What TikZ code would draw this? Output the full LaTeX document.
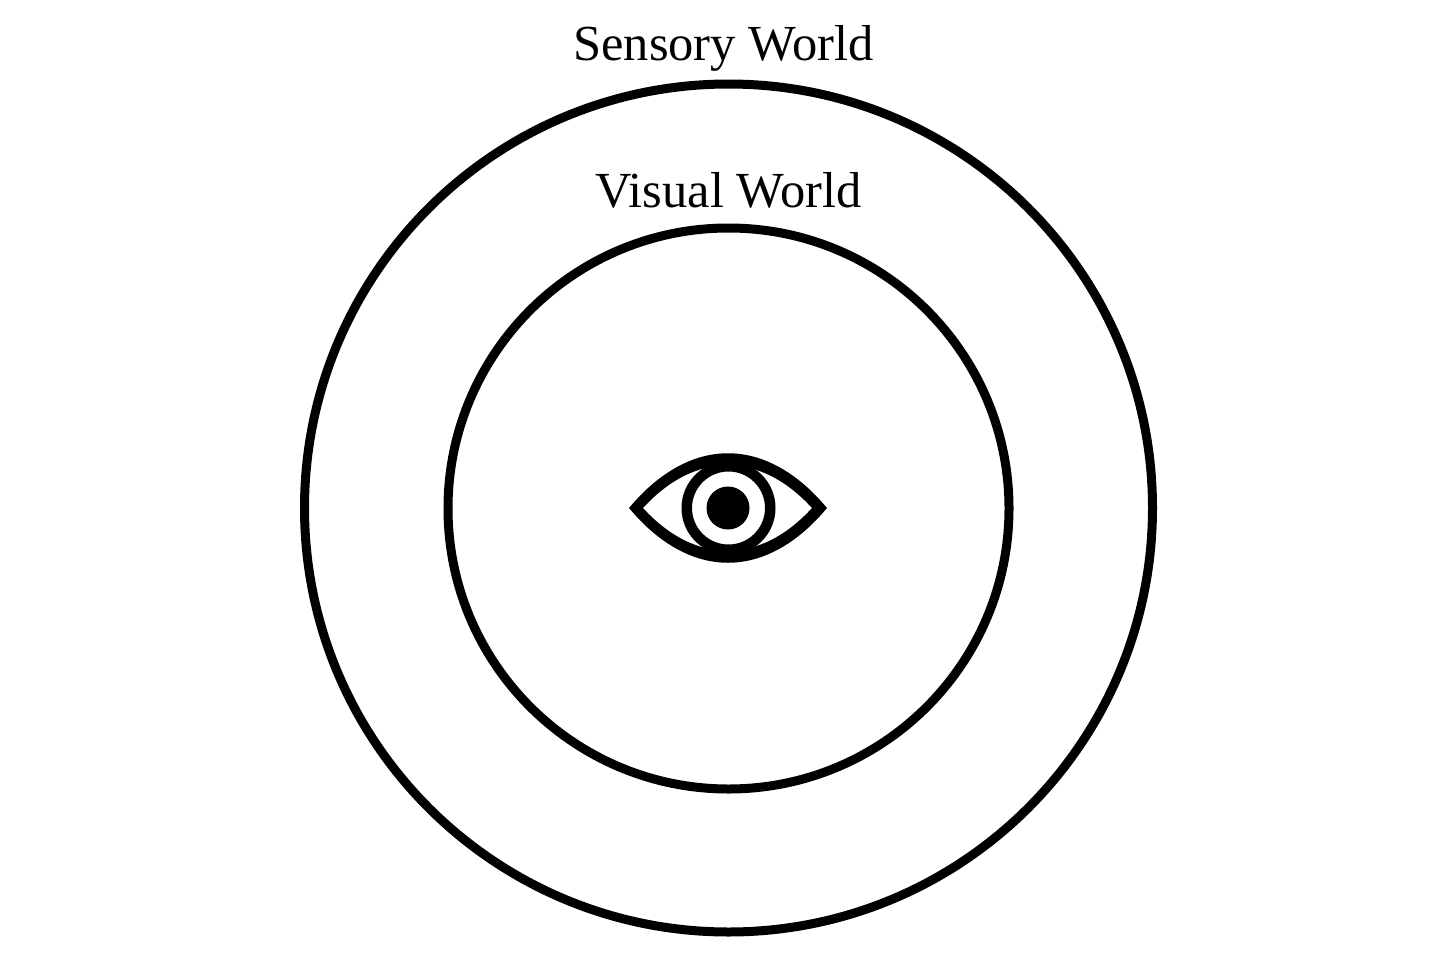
\documentclass[tikz,border=0pt]{standalone}
\usepackage{fontspec}
\setmainfont{Liberation Serif}
\tikzset{ring/.style={circle,draw=black,line width=9pt,inner sep=0pt,outer sep=0pt},
lab/.style={font=\fontsize{50.5pt}{54pt}\selectfont,inner sep=0pt,anchor=base}}
\begin{document}
\begin{tikzpicture}[x=1pt,y=-1pt]
\useasboundingbox (0,0) rectangle (1456,974);
\fill[white] (0,0) rectangle (1456,974);
\node[ring,minimum size=848pt] (outer) at (728.5,508) {};
\node[ring,minimum size=561pt] (inner) at (728.5,508.5) {};
\node[lab] (s) at (723.5,61) {Sensory World};
\node[lab] (v) at (728.5,207.5) {Visual World};
\fill[black,even odd rule] (629,508) .. controls (690,435) and (766,435) .. (827,508) .. controls (766,581) and (690,581) .. (629,508) -- cycle
 (643,508) .. controls (695,451) and (760,451) .. (812,508) .. controls (760,565) and (695,565) .. (643,508) -- cycle;
\node[circle,draw=black,line width=10.5pt,inner sep=0pt,outer sep=0pt,minimum size=83.5pt] (iris) at (728.5,508) {};
\node[circle,fill=black,inner sep=0pt,outer sep=0pt,minimum size=43pt] (pupil) at (728,508) {};
\end{tikzpicture}
\end{document}
